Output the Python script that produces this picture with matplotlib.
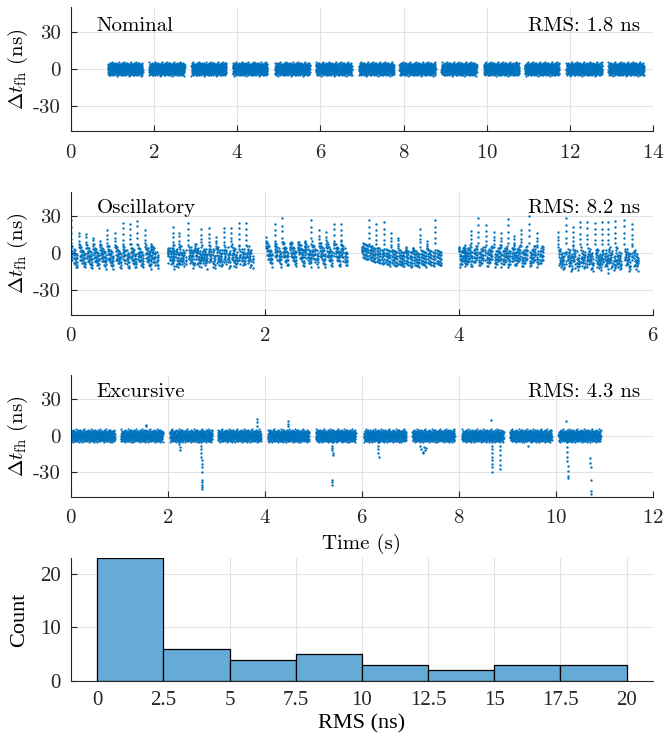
import matplotlib
matplotlib.use("Agg")
import matplotlib.pyplot as plt
import numpy as np

plt.rcParams["font.family"] = "cmr10"
plt.rcParams["mathtext.fontset"] = "cm"
plt.rcParams["axes.unicode_minus"] = False
plt.rcParams["axes.formatter.use_mathtext"] = True

BLUE = "#0072BD"

# ---- shared noise pattern (ns), read roughly from the nominal band ----
noise = [0.8, -1.6, 2.3, -0.4, 1.1, -2.7, 0.3, 3.1, -1.2, -0.6, 1.9, -3.3, 0.5, 2.6,
         -1.9, -0.2, 1.4, -2.2, 3.6, -0.9, 0.1, -3.8, 2.0, 1.2, -1.4, -2.5, 0.7, 2.9,
         -0.3, -1.7, 3.3, -2.9, 0.4, 1.6, -1.0, -3.1, 2.4, 0.0, -2.0, 1.8, 4.1, -0.7,
         -1.3, 2.2, -3.5, 0.9, 1.3, -2.4, 0.6, 3.0, -1.5, -0.1, 2.7, -3.0, 1.0, -0.8,
         -2.1, 3.4, 0.2, -1.1, 1.7, -2.8, 2.1, -0.5, 0.8, -3.6, 2.8, 1.5, -1.8, -0.4,
         3.8, -2.3, 0.3, 1.1, -1.0, -2.6, 2.5, 0.6, -3.2, 1.9, -0.2, 2.0, -1.4, 3.2,
         -2.0, 0.4, -0.9, 1.6, -4.0, 2.3, 0.9, -1.6, 2.6, -0.6, -2.9, 1.2, 0.1, 3.5,
         -1.2, -0.3, 1.8, -2.4, 0.7, 2.9, -3.4, 1.4, -0.7, -1.9, 4.4, 0.0, -2.2, 1.0,
         2.2, -1.1, -3.0, 0.5, 1.7, -0.8, 3.0, -2.6, 0.2]

# ---- Nominal panel ----
nominal_starts = [0.89, 1.88, 2.90, 3.89, 4.91, 5.89, 6.93, 7.90, 8.91, 9.93, 10.91, 11.91, 12.92]
nominal_ends = [1.73, 2.74, 3.74, 4.73, 5.75, 6.76, 7.77, 8.77, 9.76, 10.78, 11.74, 12.78, 13.78]
nominal_scale = 1.35
nominal_rms = "RMS: 1.8 ns"

# ---- Oscillatory panel: tooth times and peak heights per segment ----
osc_tooth_t = [
    [0.0, 0.085, 0.157, 0.23, 0.30, 0.376, 0.455, 0.534, 0.609, 0.685, 0.764, 0.832],
    [1.0, 1.05, 1.12, 1.21, 1.28, 1.345, 1.42, 1.50, 1.575, 1.65, 1.73, 1.81],
    [2.01, 2.10, 2.18, 2.26, 2.34, 2.41, 2.48, 2.56, 2.63, 2.71, 2.78],
    [3.0, 3.075, 3.15, 3.225, 3.30, 3.375, 3.45, 3.525, 3.60, 3.675, 3.75],
    [4.0, 4.05, 4.12, 4.20, 4.28, 4.36, 4.43, 4.50, 4.57, 4.64, 4.72, 4.80],
    [5.02, 5.10, 5.17, 5.25, 5.32, 5.40, 5.47, 5.54, 5.61, 5.70, 5.78],
]
osc_peaks = [
    [27, 17, 16, 13, 10, 19, 16, 25, 24.5, 26.7, 18.5, 7.7],
    [4, 21, 16.7, 24.5, 7.7, 19, 20.4, 13, 21, 21, 25, 24.5],
    [13, 23.5, 28.5, 9, 9, 10, 27, 18.5, 17, 24, 24],
    [5, 26.7, 24, 25, 16, 13, 5, 5, 19, 10, 27],
    [5, 3.5, 18.5, 28.5, 22.6, 17, 16, 28, 14.5, 19, 30, 16],
    [17, 28.8, 22, 26, 25, 24.5, 25, 25, 26.7, 27, 24.5],
]
osc_centers = [
    [-3] * 12,
    [-3] * 12,
    [-1] * 11,
    [1.5, -0.5, -2.0, -3.0, -3.6, -4.0, -4.2, -4.2, -4.0, -3.8, -3.6],
    [-2] * 12,
    [-5] * 11,
]
osc_slopes = [-10, -6, -12, -3, 8, -8]
osc_spread = [1.0, 3.0, 1.0, 0.6, 1.0, 3.0]
osc_period = 0.075
osc_bands = [-5.4, -2.7, 0.0, 2.7, 5.4]
streak_frac = [0.1, 0.25, 0.4, 0.55, 0.7, 0.85]
column_frac = [1.0, 0.8, 0.62, 0.45, 0.3]
jitter = [0.6, -0.8, 0.3, -0.4, 0.9, -0.2, 0.5, -0.7, 0.1, -0.5, 0.8, -0.3, 0.4]
osc_rms = "RMS: 8.2 ns"

# ---- Excursive panel ----
exc_starts = [0.0, 1.03, 2.04, 3.03, 4.06, 5.05, 6.04, 7.04, 8.06, 9.05, 10.05]
exc_ends = [0.91, 1.90, 2.92, 3.92, 4.91, 5.87, 6.91, 7.91, 8.92, 9.91, 10.92]
exc_scale = 1.3
exc_spike_t = [2.24, 2.24, 2.25, 2.25,
               2.69, 2.69, 2.69, 2.69, 2.69, 2.70, 2.70, 2.70, 2.70, 2.70, 2.70, 2.70, 2.70, 2.70,
               3.83, 3.83, 3.83, 4.48, 4.48, 4.48, 1.55, 1.55,
               5.38, 5.38, 5.39, 5.39, 5.40, 5.40, 5.39, 5.39, 5.39,
               6.33, 6.33, 6.34, 6.34, 6.35,
               7.20, 7.22, 7.26, 7.28, 7.31, 7.33, 7.25,
               8.68, 8.68, 8.68, 8.68, 8.68, 8.68, 8.69, 8.69, 8.69, 8.67,
               8.84, 8.84, 8.84, 8.85, 8.85, 8.85,
               10.23, 10.23, 10.23, 10.23, 10.23, 10.24, 10.24, 10.24, 10.24, 10.20,
               10.70, 10.70, 10.71, 10.71, 10.71, 10.72, 9.43]
exc_spike_y = [-5, -7, -9, -12,
               -5, -8, -11, -14, -17, -20, -23, -26, -30, -36, -38, -40, -42, -44,
               8, 11, 14, 8, 10, 12, 8, 9,
               -5, -8, -10, -12, -14, -16, -36, -38, -40,
               -5, -8, -11, -14, -17,
               -8, -11, -13, -9, -12, -10, -14,
               -5, -8, -11, -14, -17, -20, -23, -26, -30, 13,
               -8, -12, -16, -20, -24, -27,
               -5, -9, -13, -17, -21, -25, -29, -33, -35, 12,
               -18, -22, -26, -36, -45, -48, -8]
exc_rms = "RMS: 4.3 ns"

# ---- Histogram ----
bin_edges = [0, 2.5, 5, 7.5, 10, 12.5, 15, 17.5, 20]
counts = [23, 6, 4, 5, 3, 2, 3, 3]
hist_ticks = [0, 2.5, 5, 7.5, 10, 12.5, 15, 17.5, 20]
hist_ticklabels = ["0", "2.5", "5", "7.5", "10", "12.5", "15", "17.5", "20"]


def noisy_segments(starts, ends, scale, n=350):
    ts, ys = [], []
    for k, (s, e) in enumerate(zip(starts, ends)):
        t = np.linspace(s, e, n)
        y = np.resize(np.roll(noise, 17 * k), n) * scale
        ts.append(t)
        ys.append(y)
    return np.concatenate(ts), np.concatenate(ys)


def oscillatory_points():
    ts, ys = [], []
    j = 0
    for seg in range(len(osc_tooth_t)):
        for k, t0 in enumerate(osc_tooth_t[seg]):
            pk = osc_peaks[seg][k]
            c = osc_centers[seg][k]
            for f in column_frac:
                ts.append(t0)
                ys.append(pk * f + jitter[j % len(jitter)] * 0.5)
                j += 1
            for b in osc_bands:
                for f in streak_frac:
                    ts.append(t0 + f * osc_period)
                    ys.append(c + b + osc_slopes[seg] * (f - 0.5)
                              + jitter[j % len(jitter)] * osc_spread[seg])
                    j += 1
    return np.array(ts), np.array(ys)


def style_ax(ax):
    for s in ["top", "right"]:
        ax.spines[s].set_visible(False)
    for s in ["left", "bottom"]:
        ax.spines[s].set_color("#262626")
        ax.spines[s].set_linewidth(0.8)
    ax.grid(True, color="#e3e3e3", linewidth=0.8)
    ax.set_axisbelow(True)
    ax.tick_params(direction="in", length=4, width=0.8, colors="#262626",
                   labelsize=15, labelcolor="#262626", pad=7)
    ax.tick_params(axis="x", pad=9)


fig = plt.figure(figsize=(6.63, 7.41), dpi=100)
left, width = 0.1066, 0.8785
ax1 = fig.add_axes([left, 0.8232, width, 0.1674])
ax2 = fig.add_axes([left, 0.5749, width, 0.1664])
ax3 = fig.add_axes([left, 0.3297, width, 0.1642])
ax4 = fig.add_axes([left, 0.0810, width, 0.1664])

ylab = r"$\Delta t_{\mathrm{fh}}$ (ns)"

# Nominal
t1, y1 = noisy_segments(nominal_starts, nominal_ends, nominal_scale)
ax1.scatter(t1, y1, s=2.5, color=BLUE, linewidths=0)
ax1.set_xlim(0, 14)
ax1.set_xticks(range(0, 15, 2))
ax1.text(0.045, 0.81, "Nominal", transform=ax1.transAxes, fontsize=15, va="baseline")
ax1.text(0.978, 0.81, nominal_rms, transform=ax1.transAxes, fontsize=15, va="baseline", ha="right")

# Oscillatory
t2, y2 = oscillatory_points()
ax2.scatter(t2, y2, s=3, color=BLUE, linewidths=0)
ax2.set_xlim(0, 6)
ax2.set_xticks(range(0, 7, 2))
ax2.text(0.045, 0.825, "Oscillatory", transform=ax2.transAxes, fontsize=15, va="baseline")
ax2.text(0.978, 0.825, osc_rms, transform=ax2.transAxes, fontsize=15, va="baseline", ha="right")

# Excursive
t3, y3 = noisy_segments(exc_starts, exc_ends, exc_scale)
ax3.scatter(t3, y3, s=2.5, color=BLUE, linewidths=0)
ax3.scatter(exc_spike_t, exc_spike_y, s=3, color=BLUE, linewidths=0)
ax3.set_xlim(0, 12)
ax3.set_xticks(range(0, 13, 2))
ax3.set_xlabel("Time (s)", fontsize=15, labelpad=5)
ax3.text(0.045, 0.82, "Excursive", transform=ax3.transAxes, fontsize=15, va="baseline")
ax3.text(0.978, 0.82, exc_rms, transform=ax3.transAxes, fontsize=15, va="baseline", ha="right")

for ax in (ax1, ax2, ax3):
    style_ax(ax)
    ax.set_ylim(-50, 50)
    ax.set_yticks([-30, 0, 30])
    ax.set_yticklabels(["-30", "0", "30"])
    ax.set_ylabel(ylab, fontsize=15, labelpad=2)

# Histogram
ax4.bar(bin_edges[:-1], counts, width=np.diff(bin_edges), align="edge",
        color="#66AAD7", edgecolor="black", linewidth=0.9)
style_ax(ax4)
ax4.tick_params(axis="x", pad=7)
ax4.set_xlim(-1, 21)
ax4.set_ylim(0, 23)
ax4.set_xticks(hist_ticks)
ax4.set_xticklabels(hist_ticklabels, fontfamily="Liberation Serif", fontsize=15)
ax4.set_yticks([0, 10, 20])
ax4.set_yticklabels(["0", "10", "20"], fontfamily="Liberation Serif", fontsize=15)
ax4.set_xlabel("RMS (ns)", fontfamily="Liberation Serif", fontsize=16, labelpad=3)
ax4.set_ylabel("Count", fontfamily="Liberation Serif", fontsize=16, labelpad=8)

fig.savefig("out.png", dpi=100)
